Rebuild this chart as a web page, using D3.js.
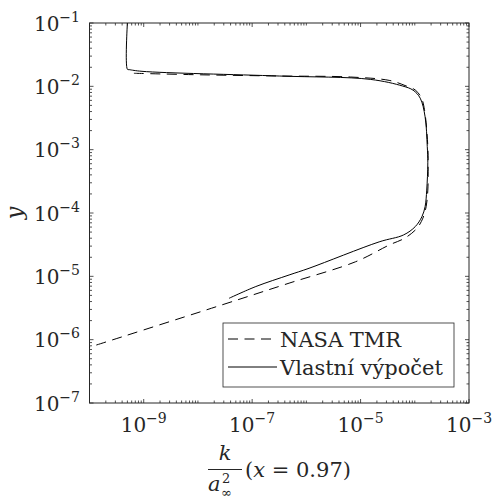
<!DOCTYPE html>
<html lang="cs">
<head>
<meta charset="UTF-8">
<script src="https://d3js.org/d3.v7.min.js"></script>
<style>
    body { margin: 0; background: #fff; }
</style>
</head>
<body>
<svg id="chart" width="492" height="500"></svg>
<script>
    // values (k/a^2 vs y)
    const tmrX = [6.6e-10, 1.1e-8, 3.16e-7, 6.5e-6, 3.47e-5, 6.6e-5, 1.02e-4, 1.32e-4, 1.51e-4, 1.74e-4, 1.76e-4, 1.74e-4, 1.62e-4, 1.41e-4, 1.10e-4, 6.6e-5, 3.39e-5, 8.1e-6, 4.8e-7, 2.8e-8, 1e-10];
    const tmrY = [0.01607, 0.01521, 0.01455, 0.01403, 0.01236, 0.0103, 8.75e-3, 6.6e-3, 4.27e-3, 1.12e-3, 6.2e-4, 2.3e-4, 1.26e-4, 8.3e-5, 5.75e-5, 4.03e-5, 3.13e-5, 1.70e-5, 7.8e-6, 3.55e-6, 7.6e-7];

    const ownX = [5.0e-10, 5.0e-10, 5.4e-10, 9.3e-10, 3.16e-7, 1.51e-5, 6.0e-5, 9.3e-5, 1.26e-4, 1.55e-4, 1.70e-4, 1.74e-4, 1.66e-4, 1.55e-4, 1.35e-4, 1.02e-4, 6.2e-5, 2.2e-5, 1.12e-6, 4.8e-7, 1.17e-7, 3.75e-8];
    const ownY = [0.1, 0.01858, 0.01835, 0.01726, 0.01455, 0.01288, 0.0101, 8.7e-3, 6.5e-3, 3.3e-3, 1.12e-3, 6.2e-4, 2.3e-4, 1.26e-4, 8.7e-5, 6.1e-5, 4.5e-5, 3.5e-5, 1.34e-5, 1.05e-5, 6.9e-6, 4.5e-6];

    const xLabelExp = [-9, -7, -5, -3];
    const yLabelExp = [-1, -2, -3, -4, -5, -6, -7];
    const legendNames = ['NASA TMR', 'Vlastní výpočet'];

    const pl = 89.5, pr = 469, pt = 23, pb = 403;
    const ink = '#262626';
    const svg = d3.select('#chart')
        .attr('font-family', "'DejaVu Serif', serif")
        .attr('fill', ink);

    const x = d3.scaleLog().domain([1e-10, 1e-3]).range([pl, pr]);
    const y = d3.scaleLog().domain([1e-7, 1e-1]).range([pb, pt]);

    svg.append('clipPath').attr('id', 'clip')
        .append('rect').attr('x', pl).attr('y', pt)
        .attr('width', pr - pl).attr('height', pb - pt);

    // ticks on all four sides, pointing inward
    const majorLen = 4, minorLen = 2.5;
    const xTicks = x.ticks(70);
    const yTicks = y.ticks(60);
    const isDecade = v => Math.abs(Math.log10(v) - Math.round(Math.log10(v))) < 1e-9;
    const xMajor = v => isDecade(v) && xLabelExp.includes(Math.round(Math.log10(v)));
    const ticks = svg.append('g').attr('stroke', ink).attr('stroke-width', 0.8);
    xTicks.forEach(v => {
        const len = xMajor(v) ? majorLen : minorLen;
        const px = x(v);
        ticks.append('line').attr('x1', px).attr('x2', px).attr('y1', pb).attr('y2', pb - len);
        ticks.append('line').attr('x1', px).attr('x2', px).attr('y1', pt).attr('y2', pt + len);
    });
    yTicks.forEach(v => {
        const len = isDecade(v) ? majorLen : minorLen;
        const py = y(v);
        ticks.append('line').attr('x1', pl).attr('x2', pl + len).attr('y1', py).attr('y2', py);
        ticks.append('line').attr('x1', pr).attr('x2', pr - len).attr('y1', py).attr('y2', py);
    });

    svg.append('rect')
        .attr('x', pl).attr('y', pt)
        .attr('width', pr - pl).attr('height', pb - pt)
        .attr('fill', 'none').attr('stroke', ink).attr('stroke-width', 1);

    // tick labels 10^n
    const power = (g, e) => {
        g.append('tspan').text('10');
        g.append('tspan').attr('font-size', 14).attr('dy', -9).text('\u2212' + Math.abs(e));
    };
    yLabelExp.forEach(e => {
        const t = svg.append('text')
            .attr('x', 80).attr('y', y(Math.pow(10, e)) + 7.5)
            .attr('text-anchor', 'end').attr('font-size', 20);
        power(t, e);
    });
    xLabelExp.forEach(e => {
        const t = svg.append('text')
            .attr('x', x(Math.pow(10, e))).attr('y', 432)
            .attr('text-anchor', 'middle').attr('font-size', 20);
        power(t, e);
    });

    // curves
    const line = (xs, ys) => d3.line()
        .x((d, i) => x(xs[i])).y((d, i) => y(ys[i]))
        .curve(d3.curveCatmullRom.alpha(0.5))(xs);

    const plot = svg.append('g').attr('clip-path', 'url(#clip)');
    plot.append('path')
        .attr('d', line(tmrX, tmrY))
        .attr('fill', 'none').attr('stroke', '#000').attr('stroke-width', 1)
        .attr('stroke-dasharray', '10,6.5');
    plot.append('path')
        .attr('d', line(ownX, ownY))
        .attr('fill', 'none').attr('stroke', '#000').attr('stroke-width', 1);

    // legend
    const lg = svg.append('g');
    lg.append('rect')
        .attr('x', 223).attr('y', 323).attr('width', 231).attr('height', 64)
        .attr('fill', '#fff').attr('stroke', ink).attr('stroke-width', 0.8);
    legendNames.forEach((name, i) => {
        const cy = 339 + i * 28;
        lg.append('line')
            .attr('x1', 228).attr('x2', 277).attr('y1', cy).attr('y2', cy)
            .attr('stroke', '#000').attr('stroke-width', 1)
            .attr('stroke-dasharray', i === 0 ? '10,6.5' : null);
        lg.append('text')
            .attr('x', 280).attr('y', cy + 7.5)
            .attr('font-size', 21)
            .text(name);
    });

    // axis labels
    svg.append('text')
        .attr('transform', 'translate(22,213) rotate(-90)')
        .attr('text-anchor', 'middle').attr('font-size', 22)
        .attr('font-style', 'italic').text('y');

    const xl = svg.append('g');
    xl.append('text').attr('x', 225).attr('y', 460)
        .attr('text-anchor', 'middle').attr('font-size', 21)
        .attr('font-style', 'italic').text('k');
    xl.append('line').attr('x1', 208).attr('x2', 242).attr('y1', 469.5).attr('y2', 469.5)
        .attr('stroke', ink).attr('stroke-width', 1);
    xl.append('text').attr('x', 208).attr('y', 491).attr('font-size', 21)
        .attr('font-style', 'italic').text('a');
    xl.append('text').attr('x', 221).attr('y', 497).attr('font-size', 13).text('\u221E');
    xl.append('text').attr('x', 222).attr('y', 483).attr('font-size', 13).text('2');
    const par = xl.append('text').attr('x', 245).attr('y', 477).attr('font-size', 21);
    par.append('tspan').text('(');
    par.append('tspan').attr('font-style', 'italic').text('x');
    par.append('tspan').text(' = 0.97)');
</script>
</body>
</html>
